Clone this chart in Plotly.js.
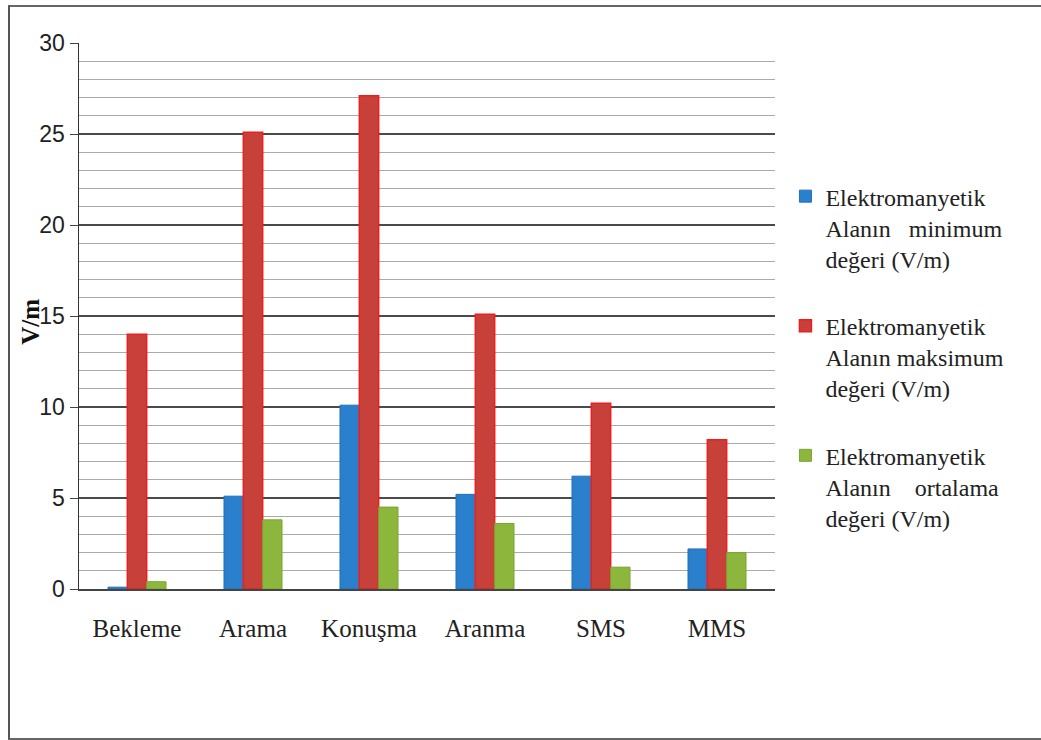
<!DOCTYPE html>
<html>
<head>
<meta charset="utf-8">
<script src="https://cdn.plot.ly/plotly-3.0.1.min.js"></script>
<style>
  html, body { margin: 0; padding: 0; background: #fff; }
  #frame { position: absolute; left: 8px; top: 5px; width: 1040px; height: 731px;
           border-left: 2px solid #555; border-top: 2px solid #666; border-bottom: 2px solid #666; }
  #chart { position: absolute; left: 0; top: 0; width: 1041px; height: 740px; }
</style>
</head>
<body>
<div id="frame"></div>
<div id="chart"></div>
<script>
// Measurement scenarios
const categories = ['Bekleme', 'Arama', 'Konuşma', 'Aranma', 'SMS', 'MMS'];

// Electromagnetic field strength per scenario (V/m)
const minValues = [0.1, 5.1, 10.1, 5.2, 6.2, 2.2];
const maxValues = [14.0, 25.1, 27.1, 15.1, 10.2, 8.2];
const avgValues = [0.4, 3.8, 4.5, 3.6, 1.2, 2.0];

const seriesNames = [
  'Elektromanyetik<br>Alanın\u00a0\u00a0\u00a0minimum<br>değeri (V/m)',
  'Elektromanyetik<br>Alanın maksimum<br>değeri (V/m)',
  'Elektromanyetik<br>Alanın\u00a0\u00a0\u00a0\u00a0ortalama<br>değeri (V/m)'
];

const yTickVals = [0, 5, 10, 15, 20, 25, 30];
const yTitle = 'V/m';

const serif = '"Liberation Serif", "Times New Roman", serif';
const sans = '"Liberation Sans", Arial, sans-serif';

const traces = [
  { type: 'bar', x: categories, y: minValues, name: seriesNames[0], legendgroup: 'a',
    marker: { color: '#2a80cc', line: { color: '#1f6fb8', width: 1 } } },
  { type: 'bar', x: categories, y: maxValues, name: seriesNames[1], legendgroup: 'b',
    marker: { color: '#c8403a', line: { color: '#f01d1d', width: 1.5 } } },
  { type: 'bar', x: categories, y: avgValues, name: seriesNames[2], legendgroup: 'c',
    marker: { color: '#8cb63c', line: { color: '#7aa532', width: 1 } } }
];

const layout = {
  width: 1041, height: 740,
  font: { family: serif, color: '#222' },
  paper_bgcolor: 'rgba(0,0,0,0)', plot_bgcolor: '#fff',
  margin: { l: 79, r: 266, t: 43, b: 151 },
  barmode: 'group', bargap: 0.5, bargroupgap: 0,
  showlegend: true,
  legend: {
    x: 1.015, y: 0.76, xanchor: 'left', yanchor: 'top', valign: 'top',
    font: { family: serif, size: 24, color: '#222' },
    tracegroupgap: 33, itemwidth: 30, traceorder: 'grouped',
    bgcolor: 'rgba(0,0,0,0)'
  },
  xaxis: {
    type: 'category', showgrid: false, ticks: '', ticklabelstandoff: 16,
    showline: true, linecolor: '#444', linewidth: 1.5,
    tickfont: { family: serif, size: 25, color: '#222' }
  },
  yaxis: {
    range: [0, 30], tickvals: yTickVals, ticks: 'outside', ticklen: 8, tickcolor: '#444',
    showline: true, linecolor: '#333', linewidth: 1.5,
    gridcolor: '#4a4a4a', gridwidth: 1.3, zeroline: false,
    minor: { dtick: 1, showgrid: true, gridcolor: '#aaaaaa', gridwidth: 1, ticks: '' },
    tickfont: { family: sans, size: 23, color: '#222' }, ticklabelstandoff: 0
  },
  // Vertical unit label sitting over the tick labels
  annotations: [{
    text: '<b>' + yTitle + '</b>', textangle: -90, showarrow: false,
    xref: 'paper', yref: 'paper', x: -0.07, y: 0.49, xanchor: 'center', yanchor: 'middle',
    font: { family: serif, size: 25, color: '#111' }
  }]
};

Plotly.newPlot('chart', traces, layout, { displayModeBar: false, staticPlot: true });
</script>
</body>
</html>
